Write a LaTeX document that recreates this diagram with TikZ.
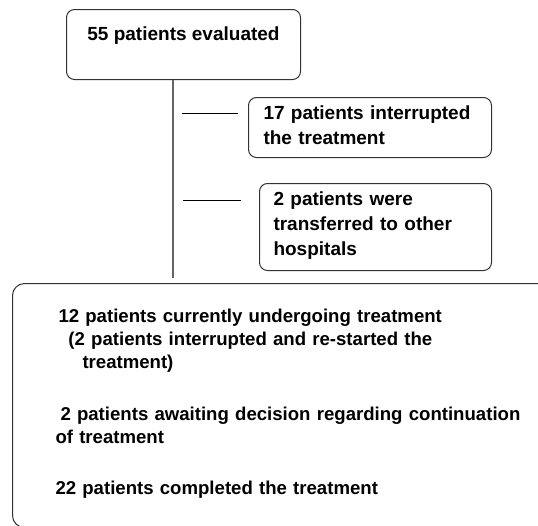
\documentclass[tikz,border=0pt]{standalone}
\usepackage{fontspec}
\setmainfont{Liberation Sans}
\usetikzlibrary{positioning}
\tikzset{every node/.style = {font = \fontsize{19}{25}\selectfont\bfseries},
	 box/.style = {draw = black!80, line width = 1pt, inner ysep = 0pt,
		       rounded corners = 8pt, anchor = north west},
	 trunkline/.style = {draw = black!60, line width = 1.6pt},
	 branch/.style = {draw = black, line width = 0.8pt}}

\begin{document}
\begin{tikzpicture}[x = 1pt, y = -1pt]
      \useasboundingbox (0,0) rectangle (538,525);
      \clip (0,0) rectangle (538,525);
      \node [box, minimum width = 234pt,
	     text height = 31pt, text depth = 39pt] (evaluated) at (66,9)
	    {55 patients evaluated};
      \node [box, align = left, text width = 213pt, inner xsep = 15pt,
	     text height = 22pt, text depth = 38pt] (interrupted) at (248,97)
	    {17 patients interrupted\\ the treatment};
      \node [box, align = left, text width = 204pt, inner xsep = 14pt,
	     text height = 22pt, text depth = 65pt] (transferred) at (259,183)
	    {2 patients were\\ transferred to other\\ hospitals};
      \node [box, align = left, rounded corners = 12pt,
	     font = \fontsize{18.6}{23}\selectfont\bfseries,
	     text width = 494pt, inner xsep = 43pt,
	     text height = 39pt, text depth = 205pt] (outcome) at (12,283)
	    {\hspace*{3pt}12 patients currently undergoing treatment\\
	     \hspace*{13pt}(2 patients interrupted and re-started the\\
	     \hspace*{27pt}treatment)\\[29pt]
	     \hspace*{5pt}2 patients awaiting decision regarding continuation\\
	     of treatment\\[28pt]
	     22 patients completed the treatment};
      \coordinate (trunk) at (173,278);
      \coordinate (left1) at (182,113);
      \coordinate (right1) at (238,113);
      \coordinate (left2) at (183,200);
      \coordinate (right2) at (241,200);
      \draw [trunkline] (evaluated.south -| trunk) -- (trunk);
      \draw [branch] (left1) -- (right1)
		     (left2) -- (right2);
    \end{tikzpicture}
\end{document}
